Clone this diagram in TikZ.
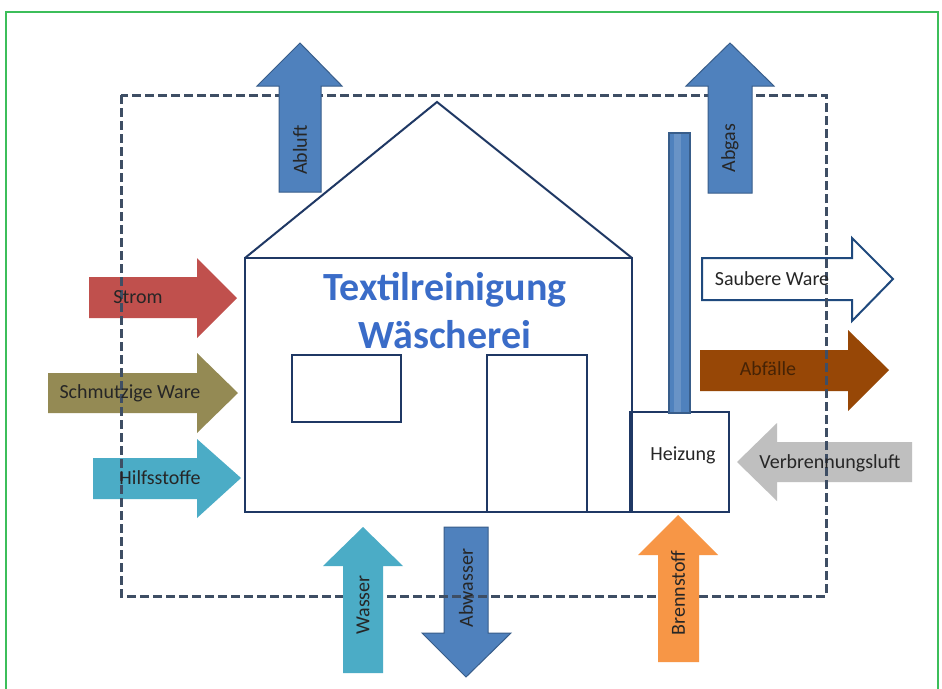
\documentclass[tikz,border=0pt]{standalone}
\usepackage{fontspec}
\setmainfont{Carlito}
\begin{document}
\begin{tikzpicture}[x=1pt,y=-1pt,
  lbl/.style={font=\fontsize{20}{22}\selectfont, text=black!85, inner sep=0pt},
  ttl/.style={font=\fontsize{40}{44}\selectfont\bfseries, text=titleA, inner sep=0pt},
  house/.style={draw=houseline, line width=2pt},
  frame/.style={draw=framecol, line width=3pt, dash pattern=on 9pt off 4pt},
  flow/.style={line width=1pt, line join=miter}]
\definecolor{houseline}{RGB}{31,56,100}
\definecolor{framecol}{RGB}{62,78,100}
\definecolor{greenb}{RGB}{60,190,90}
\definecolor{redA}{RGB}{192,80,77}
\definecolor{oliveA}{RGB}{148,138,84}
\definecolor{tealA}{RGB}{75,172,198}
\definecolor{blueA}{RGB}{79,129,189}
\definecolor{blueB}{RGB}{56,93,138}
\definecolor{brownA}{RGB}{151,71,6}
\definecolor{greyA}{RGB}{191,191,191}
\definecolor{orangeA}{RGB}{247,150,70}
\definecolor{navyA}{RGB}{31,73,125}
\definecolor{titleA}{RGB}{58,108,200}
\useasboundingbox (0,0) rectangle (942,688);
\clip (0,0) rectangle (942,688);
\fill[white] (0,0) rectangle (942,688);
% outer green border
\draw[greenb, line width=2pt] (6,12) rectangle (938,700);

% arrows below the dashed frame
\fill[redA, flow] (89,277) -- (197,277) -- (197,258) -- (237,298) -- (197,338) -- (197,318) -- (89,318) -- cycle;
\fill[oliveA, flow] (48,373) -- (197,373) -- (197,353) -- (238,393) -- (197,433) -- (197,413) -- (48,413) -- cycle;
\fill[tealA, flow] (93,458) -- (197,458) -- (197,439) -- (241,478) -- (197,518) -- (197,499) -- (93,499) -- cycle;
\filldraw[fill=white, draw=navyA, line width=2pt, line join=miter] (702,258) -- (852,258) -- (852,238) -- (893,279) -- (852,321) -- (852,300) -- (702,300) -- cycle;
\fill[brownA, flow] (700,350) -- (848,350) -- (848,330) -- (889,370) -- (848,411) -- (848,391) -- (700,391) -- cycle;
\fill[greyA, flow] (912,442) -- (777,442) -- (777,423) -- (737,462) -- (777,501) -- (777,482) -- (912,482) -- cycle;
\filldraw[fill=blueA, draw=blueB, flow] (444,527) -- (488,527) -- (488,633) -- (511,633) -- (466,677) -- (422,633) -- (444,633) -- cycle;

% dashed system boundary
\draw[frame] (121,95) rectangle (826,596);

% arrows above the dashed frame
\filldraw[fill=blueA, draw=blueB, flow] (279,192) -- (279,86) -- (257,86) -- (300,43) -- (342,86) -- (321,86) -- (321,192) -- cycle;
\filldraw[fill=blueA, draw=blueB, flow] (708,193) -- (708,86) -- (686,86) -- (730,43) -- (774,86) -- (752,86) -- (752,193) -- cycle;
\fill[tealA, flow] (343,673) -- (343,566) -- (323,566) -- (363,527) -- (403,566) -- (383,566) -- (383,673) -- cycle;
\fill[orangeA, flow] (658,662) -- (658,555) -- (638,555) -- (678,515) -- (718,555) -- (699,555) -- (699,662) -- cycle;

% house
\draw[house, line join=miter] (245,258) -- (437,102) -- (632,258);
\draw[house] (245,258) rectangle (632,512);
\draw[house] (292,355) rectangle (401,422);
\draw[house] (487,355) rectangle (587,512);
\draw[house] (630,412) rectangle (729,512);
\filldraw[fill=blueA, draw=blueB, line width=1.2pt] (669,133) rectangle (690,413);
\fill[white, opacity=0.15] (674,134) rectangle (681,412);

% title
\node[ttl] (t1) at (445,290) {Textilreinigung};
\node[ttl] (t2) at (445,335) {Wäscherei};

% labels
\node[lbl] (heiz) at (683,455) {Heizung};
\node[lbl] (strom) at (138,297) {Strom};
\node[lbl] (schm) at (130,393) {Schmutzige Ware};
\node[lbl] (hilf) at (160,478) {Hilfsstoffe};
\node[lbl] (saub) at (772,279) {Saubere Ware};
\node[lbl, text={rgb,255:red,70;green,35;blue,5}] (abf) at (768,369) {Abfälle};
\node[lbl] (verb) at (830,463) {Verbrennungsluft};
\node[lbl, rotate=90] (abluft) at (300,150) {Abluft};
\node[lbl, rotate=90] (abgas) at (730,148) {Abgas};
\node[lbl, rotate=90] (wasser) at (363,605) {Wasser};
\node[lbl, rotate=90] (abw) at (466,588) {Abwasser};
\node[lbl, rotate=90] (brenn) at (678,593) {Brennstoff};
\end{tikzpicture}
\end{document}
